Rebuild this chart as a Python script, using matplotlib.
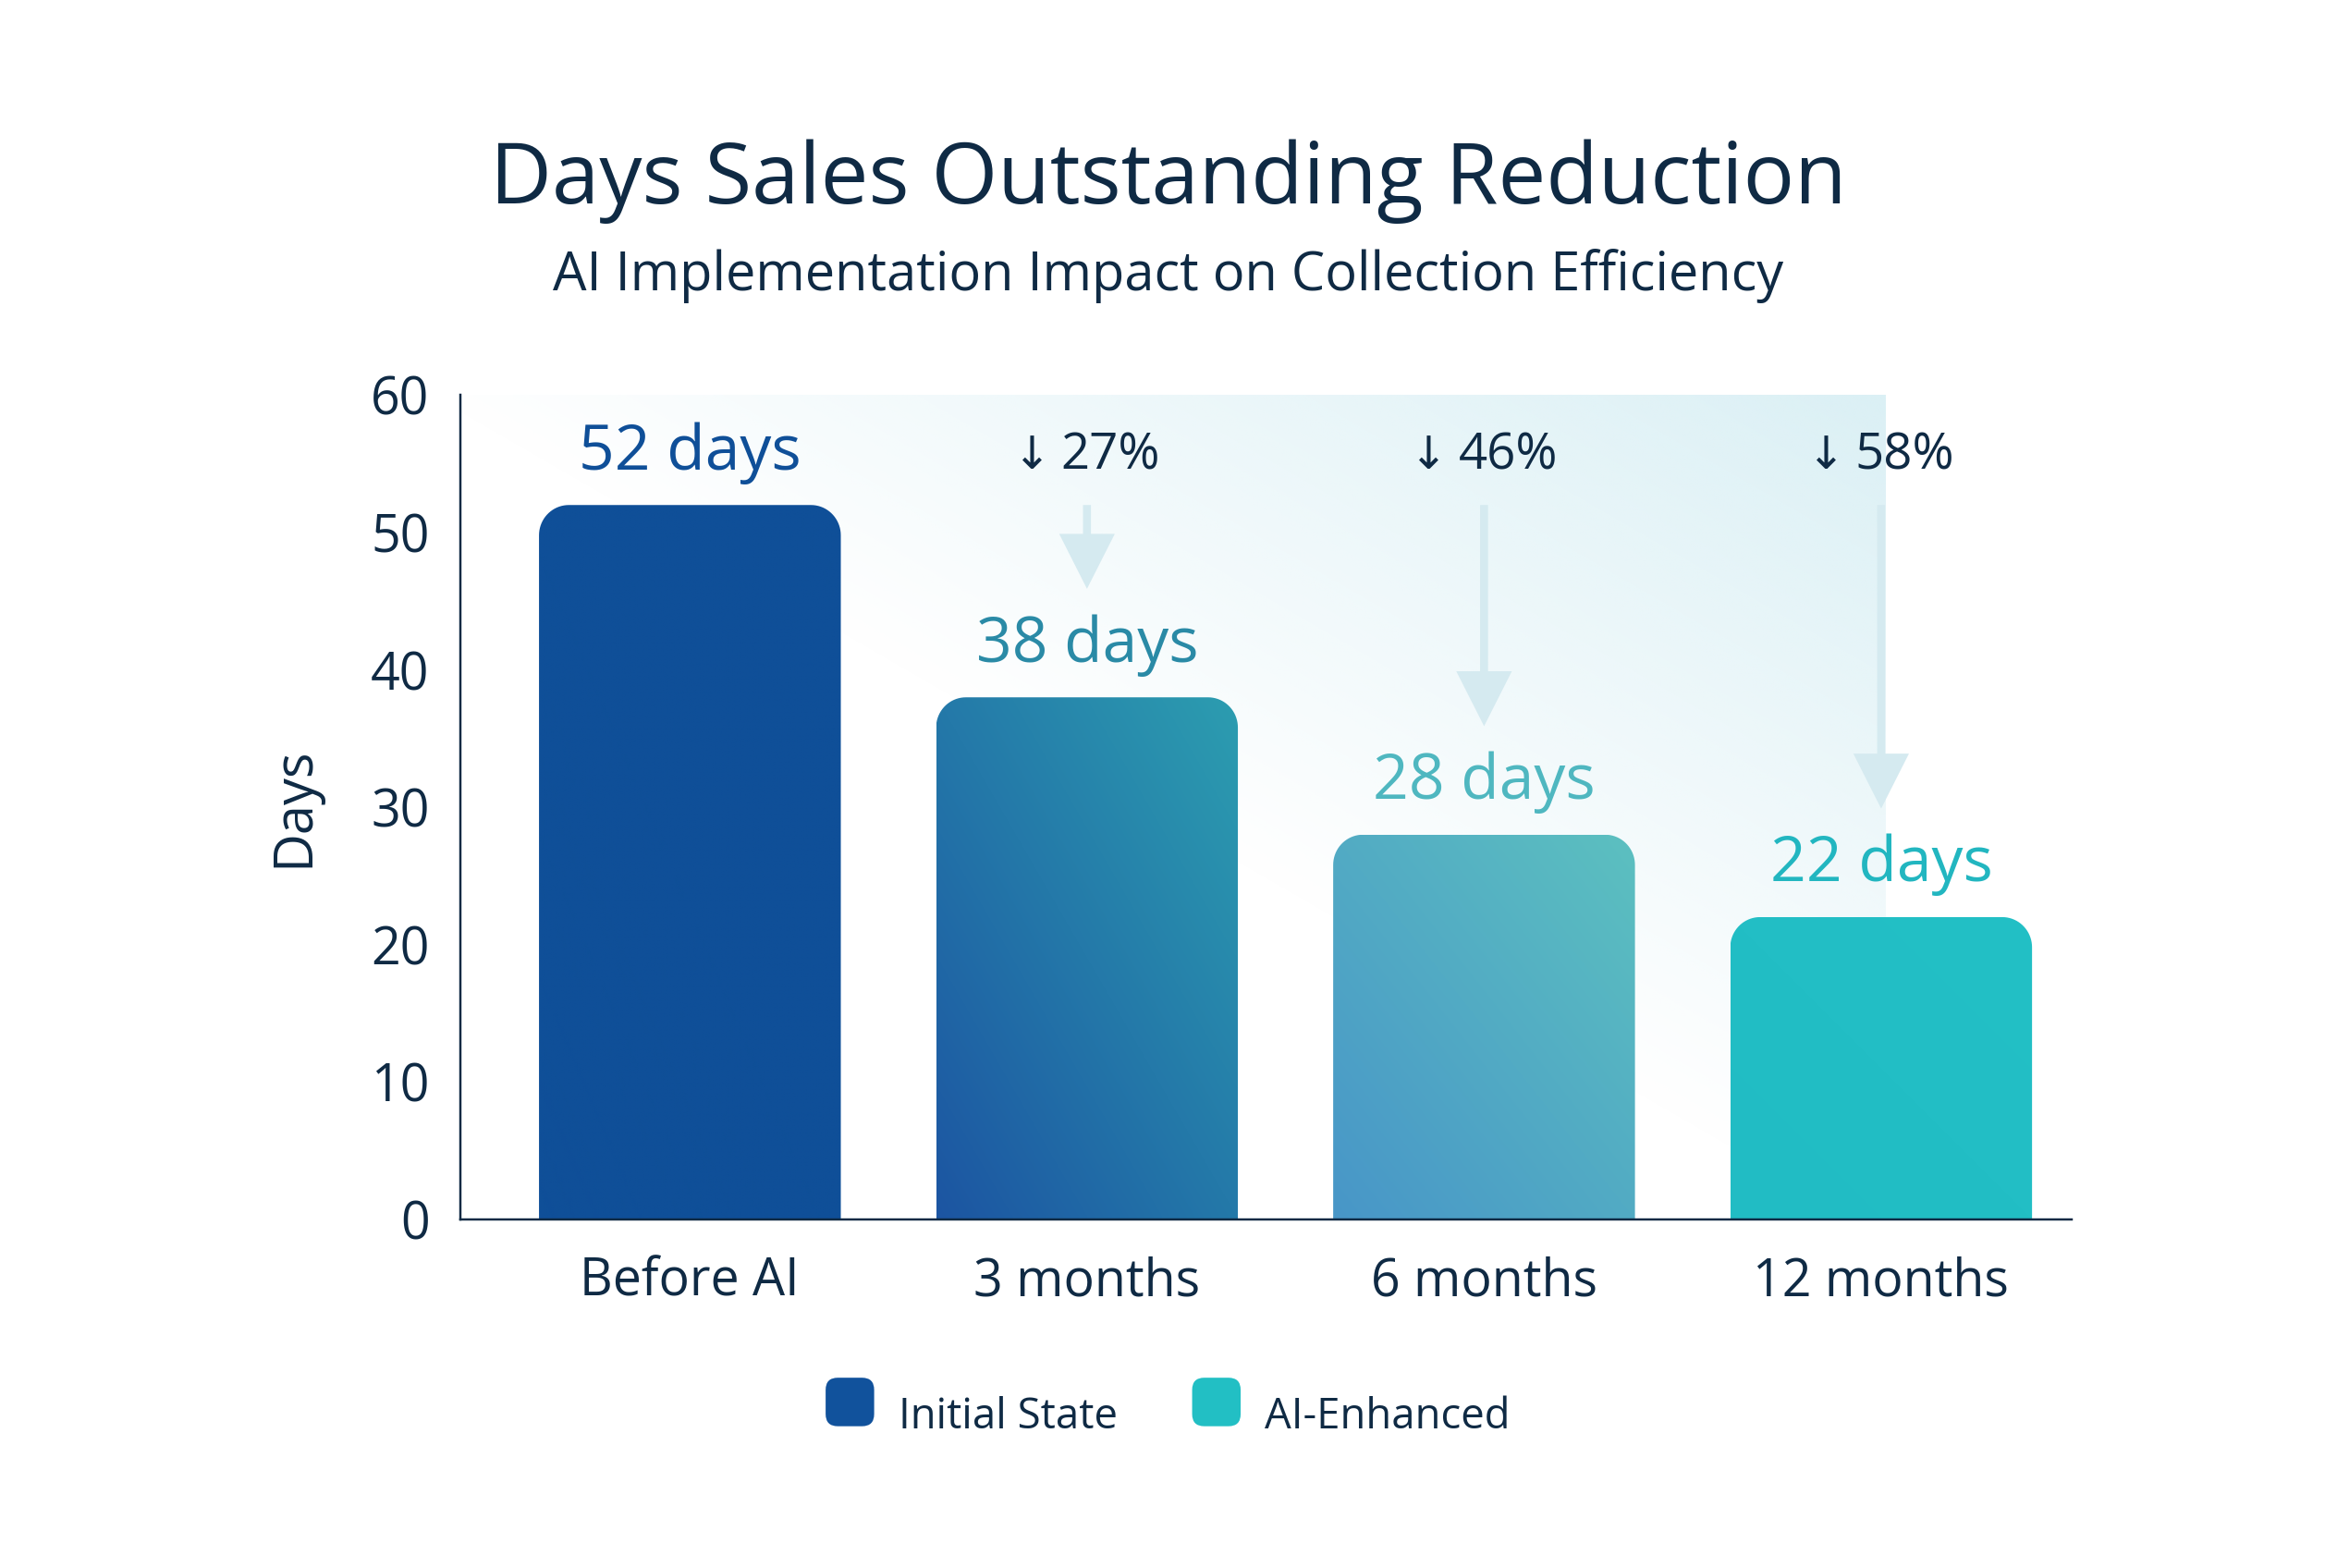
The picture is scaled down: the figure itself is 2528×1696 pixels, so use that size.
import numpy as np
import matplotlib
matplotlib.use('Agg')
import matplotlib.pyplot as plt
from matplotlib.path import Path
from matplotlib.patches import PathPatch, FancyArrow, FancyBboxPatch, Patch
from matplotlib.legend_handler import HandlerPatch

plt.rcParams['font.family'] = ['Open Sans', 'DejaVu Sans']

# data
categories = ['Before AI', '3 months', '6 months', '12 months']
dso_days = [52, 38, 28, 22]
reduction_pct = [None, 27, 46, 58]
legend_labels = ['Initial State', 'AI-Enhanced']

# styling
navy = '#0f2a44'
bar_grad = [('#0f4f98', '#0f4f98'),
            ('#1c55a2', '#2c9db0'),
            ('#4896c8', '#5cc0c0'),
            ('#21bcc4', '#23c0c6')]
label_colors = ['#0f4f98', '#2a8aa6', '#4fb7c0', '#22b6c0']
arrow_color = '#d5eaf0'

fig = plt.figure(figsize=(15.8, 10.6), dpi=160)
ax = fig.add_axes([0.197, 0.2224, 0.6895, 0.5256])
x = np.arange(len(categories))
xlim = (-0.578, 3.48)
ax.set_xlim(*xlim)
ax.set_ylim(0, 60)

# soft background wash, top-right to bottom-left
bx0, bx1 = xlim[0], 3.01
gx, gy = np.meshgrid(np.linspace(0, 1, 300), np.linspace(0, 1, 300))
alpha = np.clip((0.8 * gy + 0.8 * gx - 0.78) / 0.82, 0, 1)
wash = np.zeros((300, 300, 4))
wash[..., :3] = matplotlib.colors.to_rgb('#dbf0f5')
wash[..., 3] = alpha
ax.imshow(wash, extent=(bx0, bx1, 0, 60), origin='lower', aspect='auto',
          zorder=0, interpolation='bilinear')

# bars with rounded tops and diagonal gradient
width = 0.76
rx, ry = 0.075, 2.2
for i, v in enumerate(dso_days):
    x0, x1 = x[i] - width / 2, x[i] + width / 2
    t = np.linspace(0, np.pi / 2, 20)
    pts = [(x0, 0), (x1, 0)]
    pts += [(x1 - rx + rx * np.cos(a), v - ry + ry * np.sin(a)) for a in t]
    pts += [(x0 + rx - rx * np.cos(a), v - ry + ry * np.sin(a)) for a in t[::-1]]
    pts.append((x0, 0))
    patch = PathPatch(Path(pts, closed=True), facecolor='none', edgecolor='none')
    ax.add_patch(patch)
    c0 = np.array(matplotlib.colors.to_rgb(bar_grad[i][0]))
    c1 = np.array(matplotlib.colors.to_rgb(bar_grad[i][1]))
    gu, gv = np.meshgrid(np.linspace(0, 1, 100), np.linspace(0, 1, 100))
    w = ((gu + gv) / 2)[..., None]
    img = c0 * (1 - w) + c1 * w
    im = ax.imshow(img, extent=(x0, x1, 0, v), origin='lower', aspect='auto',
                   zorder=2, interpolation='bilinear')
    im.set_clip_path(patch)
    ax.text(x[i], v + 3.8, f'{v} days', ha='center', va='center',
            fontsize=30.5, color=label_colors[i], zorder=4)

# reduction arrows and percentages
for i, p in enumerate(reduction_pct):
    if p is None:
        continue
    txt = ax.text(x[i] + 0.06, 55.6, f'{p}%', ha='center', va='center',
                  fontsize=24.5, color=navy, zorder=4)
    ax.annotate('\u2193', xy=(0, 0.5), xycoords=txt, xytext=(-5, 0),
                textcoords='offset points', ha='right', va='center',
                family='DejaVu Sans', fontsize=22, color=navy, zorder=4)
    start = dso_days[0]
    end = dso_days[i] + 7.9
    ax.add_patch(FancyArrow(x[i], start, 0, end - start, width=0.02,
                            head_width=0.14, head_length=4.0,
                            length_includes_head=True, color=arrow_color,
                            lw=0, zorder=1))

ax.set_xticks(x)
ax.set_xticklabels(categories)
ax.set_yticks(range(0, 61, 10))
ax.tick_params(axis='both', length=0, labelsize=25, labelcolor=navy)
ax.tick_params(axis='x', pad=18)
ax.tick_params(axis='y', pad=15)
for s in ['top', 'right']:
    ax.spines[s].set_visible(False)
for s in ['left', 'bottom']:
    ax.spines[s].set_color(navy)
    ax.spines[s].set_linewidth(1.1)
    ax.spines[s].set_zorder(5)
ax.set_ylabel('Days', fontsize=26, color=navy, labelpad=24)
ax.set_facecolor('none')

fig.text(0.5, 0.884, 'Days Sales Outstanding Reduction', ha='center',
         va='center', fontsize=41.5, color=navy, fontweight='medium')
fig.text(0.5, 0.824, 'AI Implementation Impact on Collection Efficiency',
         ha='center', va='center', fontsize=26, color=navy)


def rounded_square(legend, orig_handle, xdescent, ydescent, width, height, fontsize):
    s = min(width, height) * 1.2
    return FancyBboxPatch((xdescent + (width - s) / 2, ydescent + (height - s) / 2),
                          s, s, boxstyle=f'round,pad=0,rounding_size={s * 0.25}')


handles = [Patch(facecolor='#11529c'), Patch(facecolor='#22bfc4')]
fig.legend(handles, legend_labels, loc='center', bbox_to_anchor=(0.5, 0.097),
           ncol=2, frameon=False, fontsize=20.5, labelcolor=navy,
           handler_map={Patch: HandlerPatch(patch_func=rounded_square)},
           handlelength=1.1, handleheight=1.1, columnspacing=1.8, handletextpad=0.6)

fig.savefig('out.png', dpi=160, facecolor='white')
